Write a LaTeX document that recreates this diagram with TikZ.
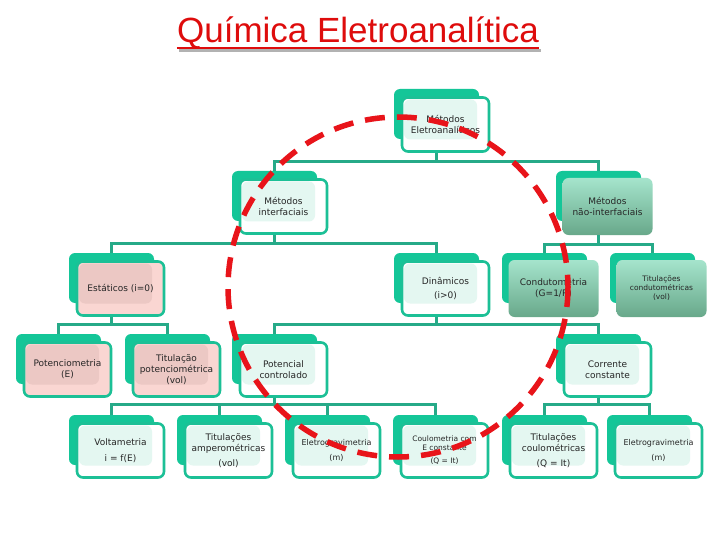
\documentclass[tikz,border=0pt]{standalone}
\usepackage{fontspec}
\setmainfont{DejaVu Sans}
\newfontfamily\titlefont{Liberation Sans}
\definecolor{tealback}{RGB}{20,198,152}
\definecolor{tealline}{RGB}{38,170,136}
\definecolor{tealborder}{RGB}{28,192,150}
\definecolor{mint}{RGB}{228,247,241}
\definecolor{pinkf}{RGB}{250,214,210}
\definecolor{pinki}{RGB}{236,200,196}
\definecolor{greentop}{RGB}{165,228,204}
\definecolor{greenbot}{RGB}{104,168,138}
\definecolor{titlered}{RGB}{222,12,12}
\definecolor{dashred}{RGB}{232,20,26}
\tikzset{
  backtab/.style={fill=tealback, rounded corners=6pt, minimum width=85pt, minimum height=50pt, inner sep=0pt},
  frontbase/.style={rounded corners=6pt, minimum width=87pt, minimum height=54pt, inner sep=0pt, align=center,
    font=\fontsize{9}{11}\selectfont, text=black!85},
  frontw/.style={frontbase, draw=tealborder, line width=2.6pt, fill=white,
    path picture={\fill[mint] ([shift={(2pt,-2pt)}]path picture bounding box.north west) rectangle ([shift={(-12pt,12pt)}]path picture bounding box.south east);}},
  frontp/.style={frontbase, draw=tealborder, line width=2.6pt, fill=pinkf,
    path picture={\fill[pinki] ([shift={(2pt,-2pt)}]path picture bounding box.north west) rectangle ([shift={(-12pt,12pt)}]path picture bounding box.south east);}},
  frontg/.style={frontbase, minimum width=90pt, minimum height=57pt, top color=greentop, bottom color=greenbot},
  smalltxt/.style={font=\fontsize{7.5}{9}\selectfont},
  midtxt/.style={font=\fontsize{8}{10}\selectfont},
  connline/.style={draw=tealline, line width=2.8pt},
}
\newcommand\tbox[5]{%
  \node[backtab] (#2-b) at ({#3+42.5},{#4+25}) {};
  \node[#1] (#2) at ({#3+51.5},{#4+35.5}) {#5};
}
\newcommand\conn[3]{\draw[connline] (#1.south -| #1-b.center) -- ++(0,#3) -| (#2-b.north);}
\begin{document}
\begin{tikzpicture}[x=1pt,y=-1pt]
\useasboundingbox (0,0) rectangle (720,540);
\fill[white] (0,0) rectangle (720,540);
% title
\node[anchor=base, inner sep=0pt, font=\titlefont\fontsize{35}{40}\selectfont, text=titlered] (title) at (358,43) {Química Eletroanalítica};
\draw[black!30, line width=2.2pt] ([xshift=2pt,yshift=-7.5pt]title.base west) -- ([xshift=2pt,yshift=-7.5pt]title.base east);
\draw[titlered, line width=2.2pt] ([yshift=-5pt]title.base west) -- ([yshift=-5pt]title.base east);
% boxes
\tbox{frontw}{root}{394}{89}{Métodos\\Eletroanalíticos}
\tbox{frontw}{intf}{232}{171}{Métodos\\interfaciais}
\tbox{frontg}{nonintf}{556}{171}{Métodos\\não-interfaciais}
\tbox{frontp}{estat}{69}{253}{Estáticos (i=0)}
\tbox{frontw}{dinam}{394}{253}{Dinâmicos\\[3pt](i>0)}
\tbox{frontg}{condut}{502}{253}{Condutometria\\(G=1/R)}
\tbox{frontg,smalltxt}{titcond}{610}{253}{Titulações\\condutométricas\\(vol)}
\tbox{frontp}{potenc}{16}{334}{Potenciometria\\(E)}
\tbox{frontp}{titpot}{125}{334}{Titulação\\potenciométrica\\(vol)}
\tbox{frontw}{potctrl}{232}{334}{Potencial\\controlado}
\tbox{frontw}{corr}{556}{334}{Corrente\\constante}
\tbox{frontw}{volt}{69}{415}{Voltametria\\[5pt]i = f(E)}
\tbox{frontw}{titamp}{177}{415}{Titulações\\amperométricas\\[4pt](vol)}
\tbox{frontw,midtxt}{eletroa}{285}{415}{Eletrogravimetria\\[5pt](m)}
\tbox{frontw,smalltxt}{coul}{393}{415}{Coulometria com\\E constante\\[4pt](Q = It)}
\tbox{frontw}{titcoul}{502}{415}{Titulações\\coulométricas\\[4pt](Q = It)}
\tbox{frontw,midtxt}{eletrob}{607}{415}{Eletrogravimetria\\[5pt](m)}
% connectors
\conn{root}{intf}{9}
\conn{root}{nonintf}{9}
\conn{intf}{estat}{9}
\conn{intf}{dinam}{9}
\conn{nonintf}{condut}{9}
\conn{nonintf}{titcond}{9}
\conn{estat}{potenc}{8}
\conn{estat}{titpot}{8}
\conn{dinam}{potctrl}{8}
\conn{dinam}{corr}{8}
\conn{potctrl}{volt}{7}
\conn{potctrl}{titamp}{7}
\conn{potctrl}{eletroa}{7}
\conn{potctrl}{coul}{7}
\conn{corr}{titcoul}{7}
\conn{corr}{eletrob}{7}
% dashed circle
\draw[dashred, line width=5.5pt, dash pattern=on 20pt off 12pt] (398,287) circle[radius=170];
\end{tikzpicture}
\end{document}
